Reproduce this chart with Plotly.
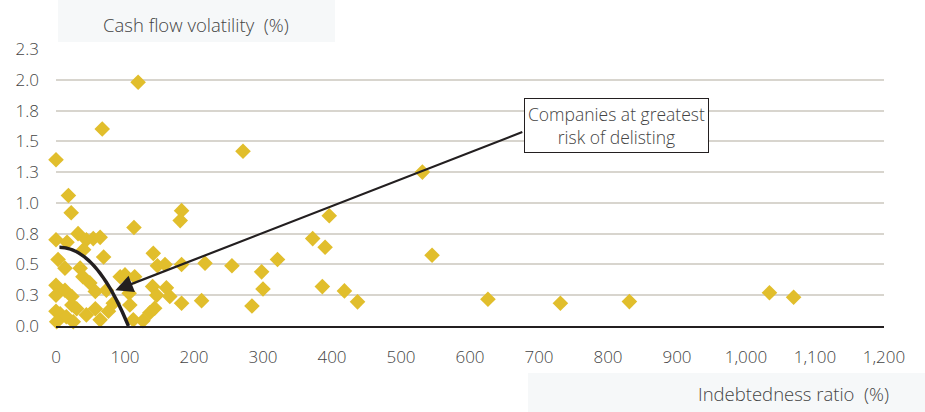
import plotly.graph_objects as go

# Indebtedness ratio (%) and cash flow volatility (%) per company
indebtedness = [
    0, 67, 119, 18, 22, 0, 32, 16, 44, 54, 64, 40, 69, 3, 13, 35, 39, 49, 57,
    0, 0, 13, 23, 23, 30, 0, 6, 15, 1, 25, 44, 57, 64, 76, 83, 93, 73,
    182, 180, 113, 141, 147, 158, 182, 216, 100, 114, 140, 160, 146, 165,
    182, 211, 106, 107, 143, 136, 112, 126,
    255, 298, 300, 284, 321, 372, 390, 396, 271, 531, 545, 386, 418, 437,
    626, 731, 831, 1034, 1069,
]
volatility = [
    1.35, 1.60, 1.98, 1.06, 0.92, 0.70, 0.75, 0.68, 0.70, 0.71, 0.72, 0.62, 0.56,
    0.54, 0.47, 0.47, 0.40, 0.35, 0.28,
    0.33, 0.25, 0.29, 0.24, 0.17, 0.14, 0.12, 0.10, 0.075, 0.035, 0.035, 0.09,
    0.14, 0.05, 0.12, 0.185, 0.40, 0.29,
    0.937, 0.856, 0.80, 0.59, 0.49, 0.50, 0.50, 0.51, 0.415, 0.40, 0.32, 0.31,
    0.25, 0.24, 0.185, 0.206, 0.266, 0.17, 0.144, 0.108, 0.05, 0.043,
    0.49, 0.44, 0.30, 0.163, 0.54, 0.71, 0.64, 0.895, 1.42, 1.25, 0.575, 0.32,
    0.285, 0.196,
    0.217, 0.185, 0.198, 0.27, 0.233,
]

y_tickvals = [0, 0.25, 0.5, 0.75, 1.0, 1.25, 1.5, 1.75, 2.0, 2.25]
y_ticktext = ["0.0", "0.3", "0.5", "0.8", "1.0", "1.3", "1.5", "1.8", "2.0", "2.3"]
x_tickvals = list(range(0, 1201, 100))

GOLD = "#E1BE2C"
INK = "#231f20"
TEXT = "#444444"
GRID = "#d8d5ce"
FONT = "Open Sans"


def txt(size=18):
    return dict(family=FONT, size=size, color=TEXT, weight=300)


fig = go.Figure()
fig.add_trace(go.Scatter(
    x=indebtedness, y=volatility, mode="markers",
    marker=dict(symbol="diamond", size=12, color=GOLD, line=dict(width=0)),
    cliponaxis=False, showlegend=False, hoverinfo="x+y",
))

# Faint panels behind the axis titles
fig.add_shape(type="rect", xref="paper", yref="paper", x0=0.0024, x1=0.337,
              y0=1.025, y1=1.18, fillcolor="#f6f8f9", line=dict(width=0), layer="below")
fig.add_shape(type="rect", xref="paper", yref="paper", x0=0.570, x1=1.06,
              y0=-0.32, y1=-0.17, fillcolor="#f6f8f9", line=dict(width=0), layer="below")

# Risk frontier curve near the origin
fig.add_shape(type="path", xref="x", yref="y",
              path="M 5,0.64 Q 58,0.64 105,0",
              line=dict(color=INK, width=3.5))

# Arrow pointing at the high-risk zone
fig.add_annotation(x=86, y=0.29, ax=678, ay=1.58, axref="x", ayref="y",
                   text="", showarrow=True, arrowhead=2, arrowsize=1.6,
                   arrowwidth=2.2, arrowcolor=INK)

fig.add_annotation(x=812, y=1.626, xref="x", yref="y",
                   text="Companies at greatest<br>risk of delisting",
                   showarrow=False, bgcolor="white", bordercolor=INK,
                   borderwidth=1, borderpad=3, font=txt(17.5))

fig.add_annotation(x=0.169, y=1.09, xref="paper", yref="paper",
                   xanchor="center", yanchor="middle",
                   text="Cash flow volatility  (%)", showarrow=False, font=txt(18.5))
fig.add_annotation(x=0.891, y=-0.242, xref="paper", yref="paper",
                   xanchor="center", yanchor="middle",
                   text="Indebtedness ratio  (%)", showarrow=False, font=txt(18.5))

fig.update_layout(
    width=925, height=412,
    margin=dict(l=56, r=41, t=49, b=86),
    paper_bgcolor="white", plot_bgcolor="white",
    font=txt(18),
    xaxis=dict(range=[0, 1200], tickvals=x_tickvals, tickformat=",d",
               showgrid=False, zeroline=False, showline=True,
               linecolor=INK, linewidth=1.5, ticks="", ticklabelstandoff=15,
               tickfont=txt(17)),
    yaxis=dict(range=[0, 2.25], tickvals=y_tickvals, ticktext=y_ticktext,
               showgrid=True, gridcolor=GRID, gridwidth=2, zeroline=False,
               showline=False, ticks="", ticklabelstandoff=16,
               tickfont=txt(17)),
)

fig.write_html("out.html")
